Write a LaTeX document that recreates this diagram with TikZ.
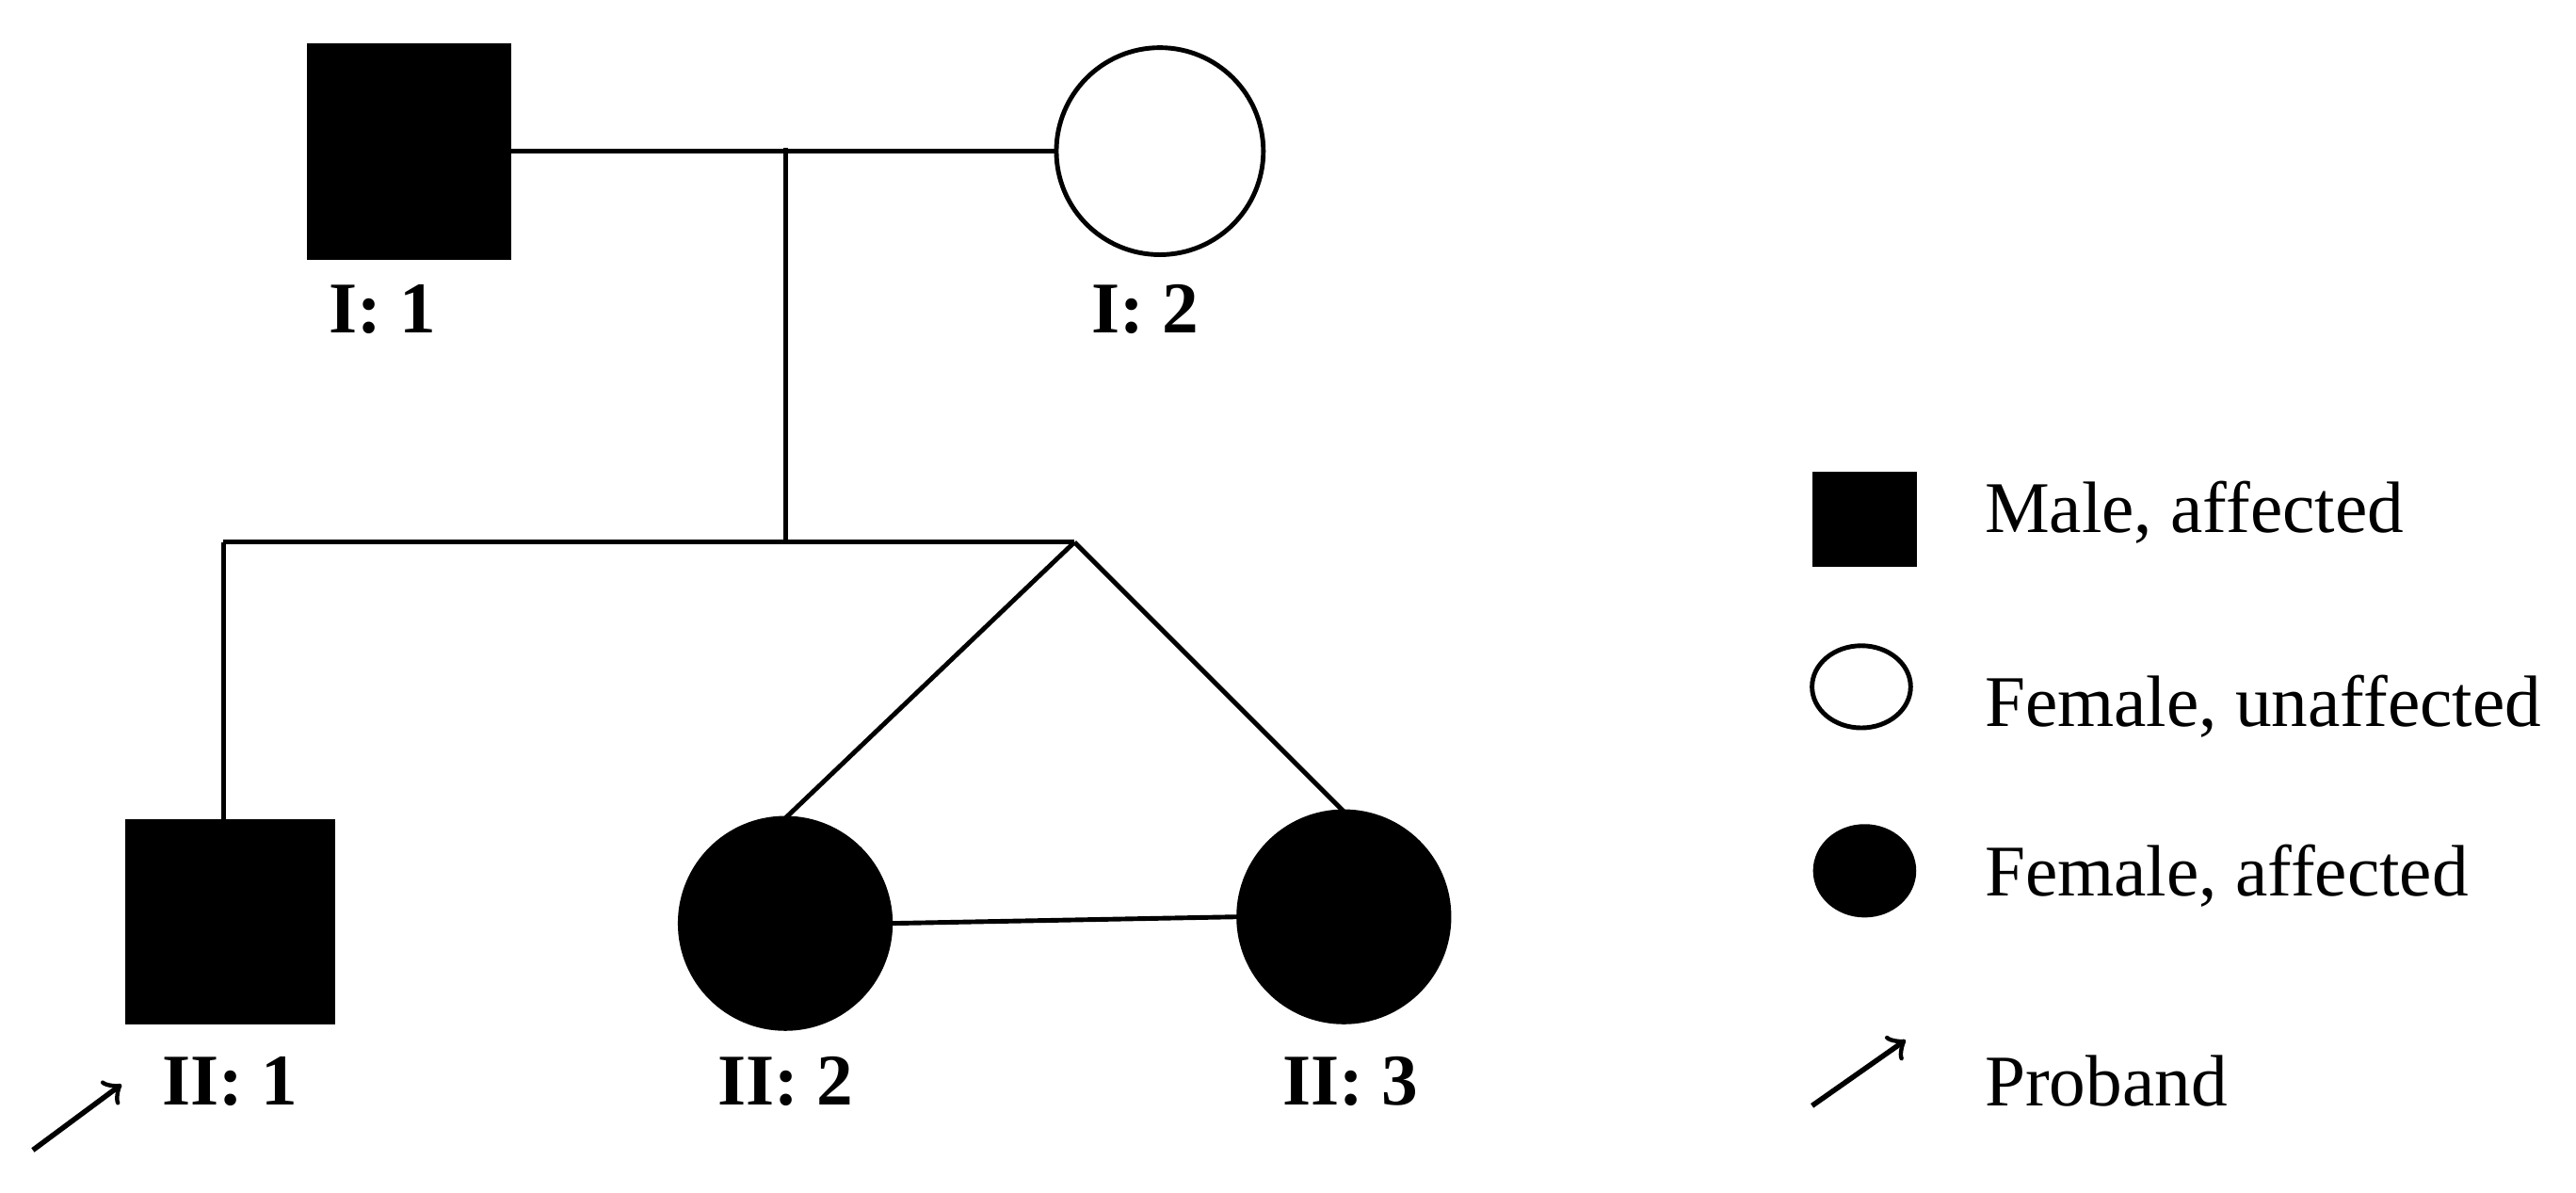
\documentclass[tikz,border=0pt]{standalone}
\usepackage{fontspec}
\usetikzlibrary{shapes.geometric}
\setmainfont{Liberation Serif}
\begin{document}
\begin{tikzpicture}[x=0.01cm,y=-0.01cm,line width=0.8pt,
  lbl/.style={font=\fontsize{12.6}{15}\selectfont\bfseries},
  leg/.style={font=\fontsize{12.6}{15}\selectfont,anchor=west},
  pers/.style={draw,fill=black,inner sep=0,outer sep=0}]
\useasboundingbox (0,0) rectangle (1568,726);
\node[pers,minimum width=122*0.01cm,minimum height=129*0.01cm] (i1) at (249,92) {};
\node[draw,circle,minimum size=126*0.01cm,inner sep=0,outer sep=0] (i2) at (706,92) {};
\node[pers,minimum width=125*0.01cm,minimum height=122*0.01cm] (ii1) at (140,561) {};
\node[pers,circle,minimum size=128*0.01cm] (ii2) at (478,562) {};
\node[pers,circle,minimum size=128*0.01cm] (ii3) at (818,558) {};
\coordinate (m) at (478,90);
\coordinate (s) at (478,330);
\coordinate (sl) at (136,330);
\coordinate (t) at (654,330);
\draw (i1.east) -- (i2.west);
\draw (m) -- (s);
\draw (sl) -- (t);
\draw (sl) -- (ii1.north -| sl);
\draw (t) -- (ii2.north);
\draw (t) -- (ii3.north);
\draw (ii2.east) -- (ii3.west);
\node[lbl] at (233,188) {I: 1};
\node[lbl] at (697,188) {I: 2};
\node[lbl] at (140,658) {II: 1};
\node[lbl] at (478,658) {II: 2};
\node[lbl] at (822,658) {II: 3};
\coordinate (a0) at (20,700); \coordinate (a1) at (74,660);
\draw[->,line width=0.9pt] (a0) -- (a1);
% legend
\node[pers,minimum width=61*0.01cm,minimum height=55*0.01cm] (l1) at (1135,316) {};
\node[draw,ellipse,minimum width=60*0.01cm,minimum height=50*0.01cm,inner sep=0] (l2) at (1133,418) {};
\node[pers,ellipse,minimum width=60*0.01cm,minimum height=54*0.01cm] (l3) at (1135,530) {};
\coordinate (b0) at (1103,673); \coordinate (b1) at (1160,633);
\draw[->,line width=0.9pt] (b0) -- (b1);
\node[leg] at (1195,312) {Male, affected};
\node[leg] at (1195,430) {Female, unaffected};
\node[leg] at (1195,533) {Female, affected};
\node[leg] at (1195,658) {Proband};
\end{tikzpicture}
\end{document}
